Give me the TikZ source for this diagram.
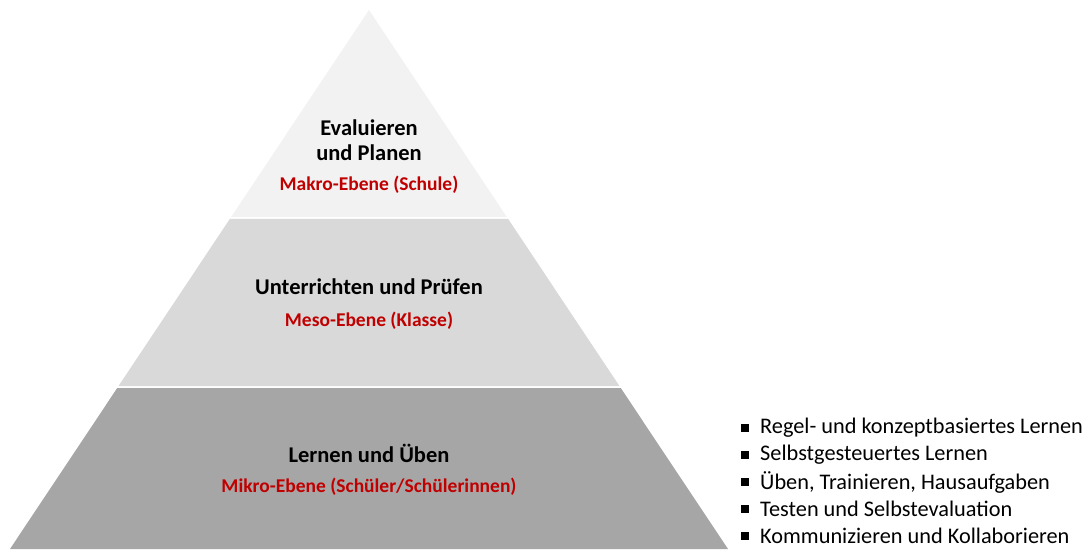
\documentclass[tikz,border=0pt]{standalone}
\usepackage{fontspec}
\setmainfont{Carlito}
\usetikzlibrary{calc}
\definecolor{bandA}{HTML}{F2F2F2}
\definecolor{bandB}{HTML}{D9D9D9}
\definecolor{bandC}{HTML}{A6A6A6}
\definecolor{redtxt}{HTML}{C00000}
\tikzset{
  title/.style={font=\fontsize{22.5}{25}\selectfont\bfseries, text=black, align=center, inner sep=0pt},
  sub/.style={font=\fontsize{19.5}{22}\selectfont\bfseries, text=redtxt, inner sep=0pt},
  item/.style={font=\fontsize{22.3}{25}\selectfont, anchor=west, inner sep=0pt},
  bul/.style={fill=black, minimum size=7.5pt, inner sep=0pt},
}
\begin{document}
\begin{tikzpicture}[x=1pt,y=-1pt]
\useasboundingbox (0,0) rectangle (1089,549);
\coordinate (A) at (369,10);
\coordinate (BL) at (10,549);
\coordinate (BR) at (728,549);
% top band
\fill[bandA] (A) -- ($(A)!207/539!(BL)$) -- ($(A)!207/539!(BR)$) -- cycle;
% middle band
\fill[bandB] ($(A)!209/539!(BL)$) -- ($(A)!376/539!(BL)$) -- ($(A)!376/539!(BR)$) -- ($(A)!209/539!(BR)$) -- cycle;
% bottom band
\fill[bandC] ($(A)!378/539!(BL)$) -- (BL) -- (BR) -- ($(A)!378/539!(BR)$) -- cycle;
% texts
\node[title] (t1) at (369,140) {Evaluieren\\und Planen};
\node[sub] (s1) at (369,185) {Makro-Ebene (Schule)};
\node[title] (t2) at (369,287) {Unterrichten und Prüfen};
\node[sub] (s2) at (369,321) {Meso-Ebene (Klasse)};
\node[title] (t3) at (369,453) {Lernen und Üben};
\node[sub] (s3) at (369,487) {Mikro-Ebene (Schüler/Schülerinnen)};
% list
\foreach \i/\t in {0/Regel- und konzeptbasiertes Lernen,1/Selbstgesteuertes Lernen,2/{Üben, Trainieren, Hausaufgaben},3/Testen und Selbstevaluation,4/Kommunizieren und Kollaborieren}{
  \node[bul] (b\i) at (745,428+27*\i) {};
  \node[item] (l\i) at (760,428+27*\i) {\t};
}
\end{tikzpicture}
\end{document}
